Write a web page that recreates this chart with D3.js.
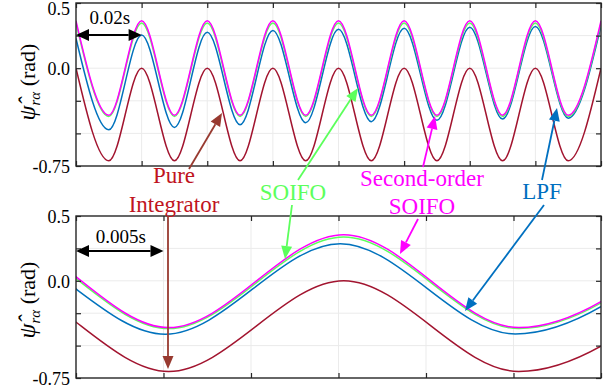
<!DOCTYPE html>
<html>
<head>
<meta charset="utf-8">
<script src="https://cdn.jsdelivr.net/npm/d3@7/dist/d3.min.js"></script>
</head>
<body style="margin:0">
<svg id="chart" width="611" height="392"></svg>
<script>
// top panel: flux value at every peak / trough (every 0.01 s)
const topTime = [0, 0.01, 0.02, 0.03, 0.04, 0.05, 0.06, 0.07, 0.08, 0.09, 0.1, 0.11, 0.12, 0.13, 0.14, 0.15, 0.16];
const topPure = [0, -0.71, 0, -0.71, 0, -0.71, 0, -0.71, 0, -0.71, 0, -0.71, 0, -0.71, 0, -0.71, 0];
const topLPF = [0.228, -0.472, 0.254, -0.454, 0.275, -0.433, 0.29, -0.418, 0.298, -0.41, 0.306, -0.4, 0.314, -0.39, 0.32, -0.383, 0.326];
const topSOIFO = [0.346, -0.37, 0.346, -0.37, 0.346, -0.37, 0.346, -0.37, 0.346, -0.37, 0.346, -0.37, 0.346, -0.37, 0.346, -0.37, 0.346];
const topSOIFO2 = [0.363, -0.36, 0.363, -0.36, 0.363, -0.36, 0.363, -0.36, 0.363, -0.36, 0.363, -0.36, 0.363, -0.36, 0.363, -0.36, 0.363];

// bottom panel (zoomed window, 0.03 s): extrema, first and last ones lie outside the window
const botTime = [-0.0147, -0.0047, 0.0053, 0.0153, 0.0253, 0.0353];
const botTimeLPF = [-0.0149, -0.0049, 0.0051, 0.0151, 0.0251, 0.0351];
const botPure = [-0.7, 0, -0.7, 0, -0.7, 0];
const botLPF = [-0.41, 0.265, -0.412, 0.286, -0.41, 0.29];
const botSOIFO = [-0.37, 0.34, -0.369, 0.338, -0.369, 0.338];
const botSOIFO2 = [-0.36, 0.36, -0.361, 0.356, -0.361, 0.356];

const yTicks = [0.5, 0.25, 0, -0.25, -0.5, -0.75];
const yTickLabels = { '0.5': '0.5', '0': '0.0', '-0.75': '-0.75' };

const colors = { pure: '#a2142f', lpf: '#0072bd', soifo: '#5cff5c', soifo2: '#ff00ff' };
const serif = 'Liberation Serif';

const svg = d3.select('#chart');
const left = 76;
const right = 601;

// every label goes through here so the serif face is set the same way each time
function label(parent, size) {
  return parent.append('text')
    .attr('font-size', size)
    .style('font-family', serif);
}

const panels = [
  {
    id: 'top', top: 3, bottom: 166, domain: [0, 0.16], step: 0.02, titleY: 82,
    series: [
      { t: topTime, v: topPure, c: colors.pure },
      { t: topTime, v: topLPF, c: colors.lpf },
      { t: topTime, v: topSOIFO, c: colors.soifo },
      { t: topTime, v: topSOIFO2, c: colors.soifo2 }
    ]
  },
  {
    id: 'bot', top: 216, bottom: 378, domain: [0, 0.03], step: 0.005, titleY: 300,
    series: [
      { t: botTime, v: botPure, c: colors.pure },
      { t: botTimeLPF, v: botLPF, c: colors.lpf },
      { t: botTime, v: botSOIFO, c: colors.soifo },
      { t: botTime, v: botSOIFO2, c: colors.soifo2 }
    ]
  }
];

panels.forEach((p) => {
  const x = d3.scaleLinear().domain(p.domain).range([left, right]);
  const y = d3.scaleLinear().domain([-0.75, 0.5]).range([p.bottom, p.top]);
  p.x = x;
  p.y = y;
  const xTicks = d3.range(0, p.domain[1] + p.step / 2, p.step);

  const g = svg.append('g');

  // grid
  g.selectAll('.vgrid')
    .data(xTicks.slice(1, -1))
    .join('line')
    .attr('x1', (d) => x(d)).attr('x2', (d) => x(d))
    .attr('y1', p.top).attr('y2', p.bottom)
    .attr('stroke', '#ebebeb').attr('stroke-width', 1);
  g.selectAll('.hgrid')
    .data(yTicks.slice(1, -1))
    .join('line')
    .attr('x1', left).attr('x2', right)
    .attr('y1', (d) => y(d)).attr('y2', (d) => y(d))
    .attr('stroke', '#ebebeb').attr('stroke-width', 1);

  g.append('clipPath').attr('id', `clip-${p.id}`)
    .append('rect')
    .attr('x', left).attr('y', p.top)
    .attr('width', right - left).attr('height', p.bottom - p.top);

  const line = d3.line()
    .x((d) => x(d[0]))
    .y((d) => y(d[1]))
    .curve(d3.curveMonotoneX);

  g.append('g')
    .attr('clip-path', `url(#clip-${p.id})`)
    .selectAll('path')
    .data(p.series)
    .join('path')
    .attr('fill', 'none')
    .attr('stroke', (d) => d.c)
    .attr('stroke-width', 1.5)
    .attr('d', (d) => line(d.t.map((t, i) => [t, d.v[i]])));

  // ticks pointing inward on every side, no tick text
  const tk = 5;
  const axes = g.append('g');
  axes.append('g').attr('transform', `translate(0,${p.bottom})`)
    .call(d3.axisTop(x).tickValues(xTicks).tickSize(tk).tickFormat(''));
  axes.append('g').attr('transform', `translate(0,${p.top})`)
    .call(d3.axisBottom(x).tickValues(xTicks).tickSize(tk).tickFormat(''));
  axes.append('g').attr('transform', `translate(${left},0)`)
    .call(d3.axisRight(y).tickValues(yTicks).tickSize(tk).tickFormat(''));
  axes.append('g').attr('transform', `translate(${right},0)`)
    .call(d3.axisLeft(y).tickValues(yTicks).tickSize(tk).tickFormat(''));
  axes.selectAll('.domain').remove();
  axes.selectAll('.tick text').remove();
  axes.selectAll('.tick line').attr('stroke', '#262626').attr('stroke-width', 1.2);

  g.append('rect')
    .attr('x', left).attr('y', p.top)
    .attr('width', right - left).attr('height', p.bottom - p.top)
    .attr('fill', 'none').attr('stroke', '#262626').attr('stroke-width', 1.4);

  // y tick labels
  yTicks.filter((d) => yTickLabels[String(d)]).forEach((d) => {
    label(g, 18)
      .attr('x', 70)
      .attr('y', Math.max(y(d) + 7, 15))
      .attr('text-anchor', 'end')
      .attr('fill', '#000')
      .text(yTickLabels[String(d)]);
  });

  // y title
  const title = label(g, 22)
    .attr('transform', `translate(35,${p.titleY}) rotate(-90)`)
    .attr('text-anchor', 'middle')
    .attr('fill', '#000');
  title.append('tspan').attr('font-style', 'italic').attr('font-size', 24).text('\u03c8\u0302');
  title.append('tspan').attr('font-style', 'italic').attr('font-size', 15).attr('dy', 5).text('r\u03b1');
  title.append('tspan').attr('dy', -5).text(' (rad)');
});

// arrows
function arrowHead(x1, y1, x2, y2, color, len = 13, half = 5.5) {
  const a = Math.atan2(y2 - y1, x2 - x1);
  const bx = x2 - len * Math.cos(a);
  const by = y2 - len * Math.sin(a);
  const px = -Math.sin(a) * half;
  const py = Math.cos(a) * half;
  svg.append('path')
    .attr('d', `M${x2},${y2}L${bx + px},${by + py}L${bx - px},${by - py}Z`)
    .attr('fill', color);
  return [bx, by];
}
function arrow(x1, y1, x2, y2, color) {
  const [bx, by] = arrowHead(x1, y1, x2, y2, color);
  svg.append('line')
    .attr('x1', x1).attr('y1', y1).attr('x2', bx).attr('y2', by)
    .attr('stroke', color).attr('stroke-width', 1.8);
}
function doubleArrow(x1, x2, yy, text, ty) {
  const a = arrowHead(x2, yy, x1, yy, '#000', 13, 6);
  const b = arrowHead(x1, yy, x2, yy, '#000', 13, 6);
  svg.append('line')
    .attr('x1', a[0]).attr('y1', yy).attr('x2', b[0]).attr('y2', yy)
    .attr('stroke', '#000').attr('stroke-width', 2);
  label(svg, 19)
    .attr('x', (x1 + x2) / 2 + 1).attr('y', ty)
    .attr('text-anchor', 'middle')
    .text(text);
}

const [pTop, pBot] = panels;
doubleArrow(pTop.x(0), pTop.x(0.02), 35, '0.02s', 24);
doubleArrow(pBot.x(0), pBot.x(0.005), 251, '0.005s', 243);

// annotation labels
const notes = [
  { lines: ['Pure', 'Integrator'], x: 174, y: [183, 212], c: '#c0141e' },
  { lines: ['SOIFO'], x: 293, y: [200], c: '#5cff5c' },
  { lines: ['Second-order', 'SOIFO'], x: 422, y: [186, 214], c: '#ff00ff' },
  { lines: ['LPF'], x: 542, y: [199], c: '#0070c0' }
];
notes.forEach((n) => {
  n.lines.forEach((s, i) => {
    label(svg, 23)
      .attr('x', n.x).attr('y', n.y[i])
      .attr('text-anchor', 'middle')
      .attr('fill', n.c)
      .text(s);
  });
});

arrow(189, 169, 222, 113, '#983a30');
arrow(168, 216, 168, 369, '#983a30');
arrow(298, 180, 358, 88, '#5cff5c');
arrow(292, 205, 285, 259, '#5cff5c');
arrow(423, 167, 435, 116, '#ff00ff');
arrow(418, 219, 400, 254, '#ff00ff');
arrow(542, 180, 557, 108, '#0070c0');
arrow(544, 205, 465, 311, '#0070c0');
</script>
</body>
</html>
